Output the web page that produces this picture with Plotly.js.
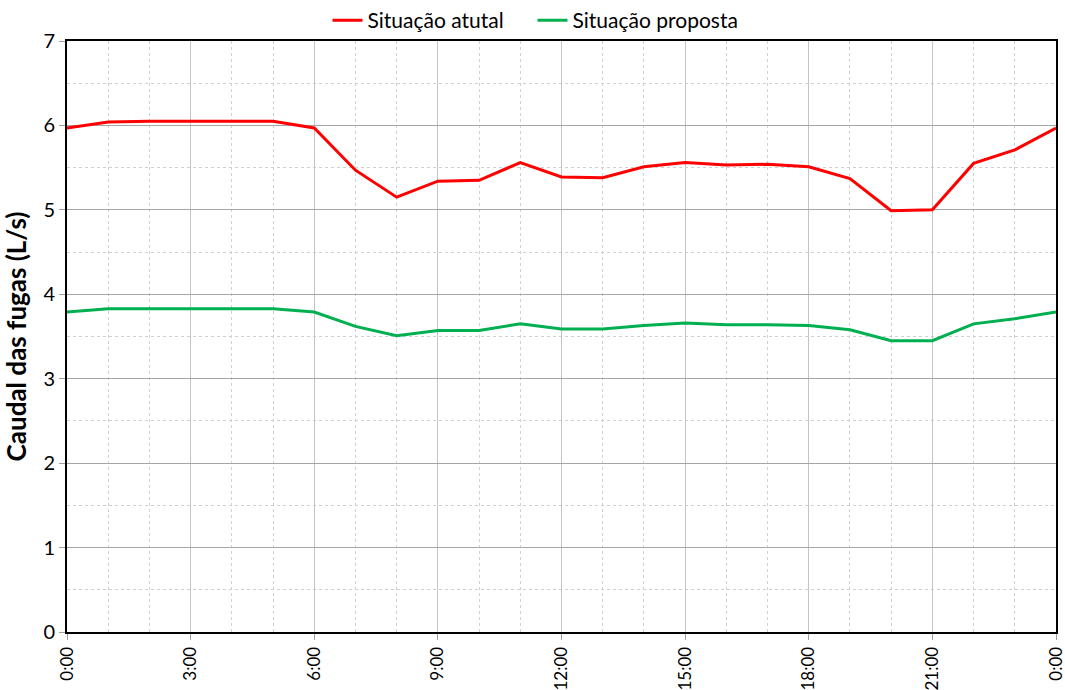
<!DOCTYPE html>
<html>
<head>
<meta charset="utf-8">
<script src="https://cdn.plot.ly/plotly-3.0.1.min.js"></script>
<style>body{margin:0;padding:0;background:#fff;} #chart{width:1065px;height:690px;}</style>
</head>
<body>
<div id="chart"></div>
<script>
const hours = [0,1,2,3,4,5,6,7,8,9,10,11,12,13,14,15,16,17,18,19,20,21,22,23,24];
const tickVals = [0,3,6,9,12,15,18,21,24];
const tickLabels = ["0:00","3:00","6:00","9:00","12:00","15:00","18:00","21:00","0:00"];
const atual = [5.97,6.04,6.05,6.05,6.05,6.05,5.97,5.47,5.15,5.34,5.35,5.56,5.39,5.38,5.51,5.56,5.53,5.54,5.51,5.37,4.99,5.00,5.55,5.71,5.97];
const proposta = [3.79,3.83,3.83,3.83,3.83,3.83,3.79,3.62,3.51,3.57,3.57,3.65,3.59,3.59,3.63,3.66,3.64,3.64,3.63,3.58,3.45,3.45,3.65,3.71,3.79];
const seriesNames = ["Situação atutal","Situação proposta"];

const font = "Lato, 'Open Sans', sans-serif";
const traces = [
  {x: hours, y: atual, name: seriesNames[0], mode: "lines", line: {color: "#ff0000", width: 3}},
  {x: hours, y: proposta, name: seriesNames[1], mode: "lines", line: {color: "#00b050", width: 3}}
];
const layout = {
  width: 1065, height: 690,
  margin: {l: 67, r: 9, t: 40, b: 58},
  paper_bgcolor: "#fff", plot_bgcolor: "#fff",
  font: {family: font, size: 17, color: "#000"},
  showlegend: true,
  legend: {orientation: "h", x: 0.5, xref: "container", xanchor: "center", y: 1, yref: "container", yanchor: "top",
    bgcolor: "rgba(0,0,0,0)", font: {size: 21}, itemwidth: 30, entrywidth: 160, entrywidthmode: "pixels", tracegroupgap: 0},
  xaxis: {
    range: [0, 24], tickmode: "array", tickvals: tickVals, ticktext: tickLabels, tickangle: -90,
    ticklabeloverflow: "allow",
    showgrid: true, gridcolor: "#c4c4c4", gridwidth: 1,
    minor: {dtick: 1, showgrid: true, gridcolor: "#d0d0d0", griddash: "3px,3px", gridwidth: 1},
    showline: true, linecolor: "#000", linewidth: 2, mirror: true,
    ticks: "outside", ticklen: 6, tickcolor: "#a0a0a0", zeroline: false,
    tickfont: {size: 17}
  },
  yaxis: {
    range: [0, 7], dtick: 1, tick0: 0,
    showgrid: true, gridcolor: "#a6a6a6", gridwidth: 1,
    minor: {dtick: 0.5, showgrid: true, gridcolor: "#d0d0d0", griddash: "3px,3px", gridwidth: 1},
    showline: true, linecolor: "#000", linewidth: 2, mirror: true,
    ticks: "outside", ticklen: 6, tickcolor: "#a0a0a0", zeroline: false,
    tickfont: {size: 20},
    title: {text: "<b>Caudal das fugas (L/s)</b>", font: {size: 26}, standoff: 14}
  }
};
Plotly.newPlot("chart", traces, layout, {displayModeBar: false, staticPlot: true});
</script>
</body>
</html>
